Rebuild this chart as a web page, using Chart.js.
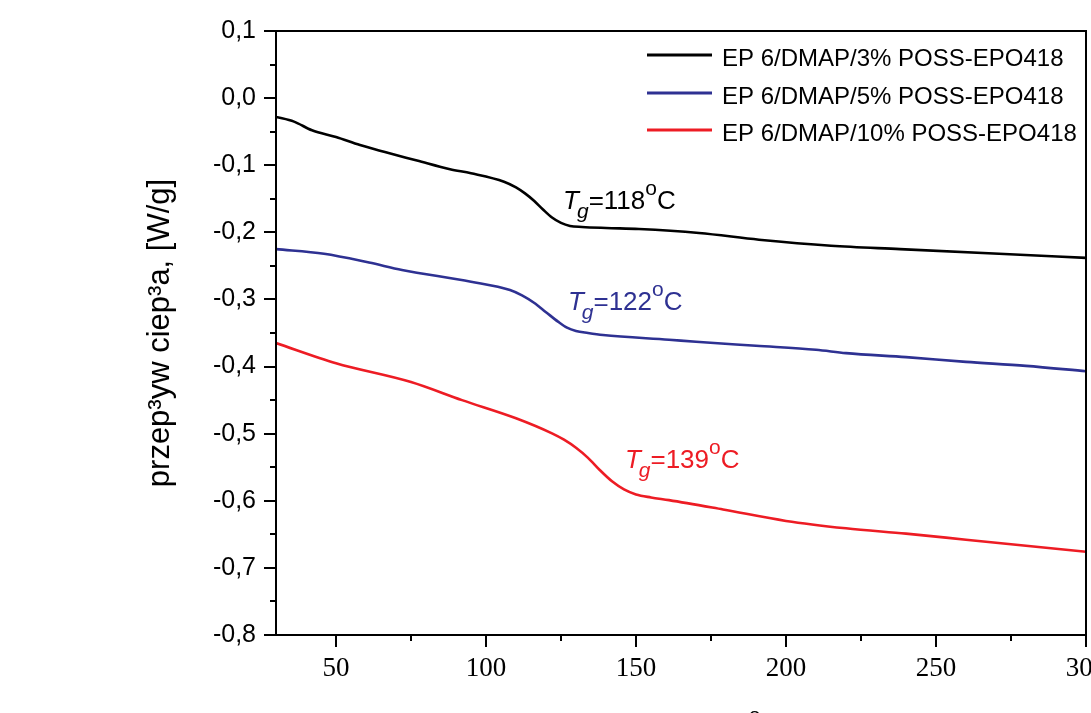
<!DOCTYPE html>
<html><head><meta charset="utf-8">
<script src="https://cdn.jsdelivr.net/npm/chart.js@4.4.1/dist/chart.umd.min.js"></script>
<style>
html,body{margin:0;padding:0;overflow:hidden;background:#fff;width:1091px;height:713px}
#wrap{position:absolute;left:0;top:0;width:1120px;height:745px}
</style>
</head><body><div id="wrap"><canvas id="c" width="1120" height="745"></canvas></div>
<script>
// ---- data ----
const seriesLabels = ['EP 6/DMAP/3% POSS-EPO418', 'EP 6/DMAP/5% POSS-EPO418', 'EP 6/DMAP/10% POSS-EPO418'];
const seriesColors = ['#000000', '#2E3192', '#ED1C24'];

const temps3 = [30, 36, 42, 50, 58, 66, 77, 88, 95, 106, 110, 113, 116, 119, 122, 125, 128, 132, 140, 151, 171, 191, 215, 238, 271, 300];
const heat3  = [-0.028, -0.035, -0.048, -0.058, -0.070, -0.080, -0.093, -0.106, -0.112, -0.1245, -0.133, -0.142, -0.153, -0.166, -0.178, -0.186, -0.1905, -0.192, -0.1935, -0.195, -0.201, -0.211, -0.220, -0.225, -0.232, -0.238];

const temps5 = [30, 46, 61, 72, 95, 108, 112, 116, 120, 124, 127, 130, 134, 139, 161, 170, 190, 210, 220, 240, 260, 280, 300];
const heat5  = [-0.225, -0.232, -0.245, -0.256, -0.2735, -0.286, -0.294, -0.305, -0.319, -0.333, -0.342, -0.347, -0.350, -0.353, -0.360, -0.363, -0.369, -0.375, -0.380, -0.386, -0.393, -0.399, -0.407];

const temps10 = [30, 50, 75, 92, 110, 122, 126, 130, 134, 138, 142, 146, 150, 155, 161, 179, 200, 220, 240, 260, 280, 300];
const heat10  = [-0.365, -0.395, -0.423, -0.450, -0.477, -0.4995, -0.509, -0.521, -0.536, -0.5545, -0.571, -0.583, -0.5905, -0.595, -0.599, -0.613, -0.630, -0.641, -0.649, -0.658, -0.667, -0.676];

const xTickValues = [50, 100, 150, 200, 250, 300];
const yTickValues = [0.1, 0.0, -0.1, -0.2, -0.3, -0.4, -0.5, -0.6, -0.7, -0.8];
const xMinorValues = [75, 125, 175, 225, 275];
const yMinorValues = [0.05, -0.05, -0.15, -0.25, -0.35, -0.45, -0.55, -0.65, -0.75];

const tgValues = ['118', '122', '139'];
const tgAnchorT = [125.7, 127.3, 146.3];
const tgAnchorV = [-0.1652, -0.3157, -0.5516];

const xTitleParts = ['Temperatura, [', 'o', 'C]'];
const yTitle = 'przep³yw ciep³a, [W/g]';

// ---- build ----
const temps = [temps3, temps5, temps10];
const heats = [heat3, heat5, heat10];
const datasets = seriesLabels.map((lab, i) => ({
  label: lab,
  data: temps[i].map((t, j) => ({x: t, y: heats[i][j]})),
  borderColor: seriesColors[i],
  backgroundColor: seriesColors[i],
  borderWidth: 2.6,
  pointRadius: 0,
  pointHoverRadius: 0,
  fill: false,
  cubicInterpolationMode: 'monotone'
}));

const SANS = '"Liberation Sans", Arial, sans-serif';
const SERIF = '"Liberation Serif", "Times New Roman", serif';

function zeroPad(s) { s.paddingTop = 0; s.paddingBottom = 0; s.paddingLeft = 0; s.paddingRight = 0; }

const framePlugin = {
  id: 'frame',
  afterDraw(chart) {
    const ctx = chart.ctx;
    const {left, right, top, bottom} = chart.chartArea;
    const xs = chart.scales.x, ys = chart.scales.y;
    ctx.save();
    ctx.strokeStyle = '#000';
    ctx.lineWidth = 2;
    ctx.strokeRect(left, top, right - left, bottom - top);
    ctx.beginPath();
    yTickValues.forEach(v => { const p = Math.round(ys.getPixelForValue(v)); ctx.moveTo(left - 12, p); ctx.lineTo(left, p); });
    yMinorValues.forEach(v => { const p = Math.round(ys.getPixelForValue(v)); ctx.moveTo(left - 6, p); ctx.lineTo(left, p); });
    xTickValues.forEach(v => { const p = Math.round(xs.getPixelForValue(v)); ctx.moveTo(p, bottom); ctx.lineTo(p, bottom + 12); });
    xMinorValues.forEach(v => { const p = Math.round(xs.getPixelForValue(v)); ctx.moveTo(p, bottom); ctx.lineTo(p, bottom + 6); });
    ctx.stroke();

    // legend
    const rowsLine = [55, 93, 130];
    ctx.textBaseline = 'alphabetic';
    ctx.textAlign = 'left';
    chart.data.datasets.forEach((ds, i) => {
      ctx.strokeStyle = ds.borderColor;
      ctx.lineWidth = 3;
      ctx.beginPath();
      ctx.moveTo(647, rowsLine[i]);
      ctx.lineTo(712, rowsLine[i]);
      ctx.stroke();
      ctx.fillStyle = '#000';
      ctx.font = '24px ' + SANS;
      ctx.fillText(ds.label, 722, rowsLine[i] + 11);
    });

    // Tg annotations
    tgValues.forEach((val, i) => {
      let x = xs.getPixelForValue(tgAnchorT[i]);
      const y = ys.getPixelForValue(tgAnchorV[i]);
      ctx.fillStyle = seriesColors[i];
      ctx.font = 'italic 26px ' + SANS;
      ctx.fillText('T', x, y);
      x += ctx.measureText('T').width - 2;
      ctx.font = 'italic 21px ' + SANS;
      ctx.fillText('g', x, y + 9);
      x += ctx.measureText('g').width;
      ctx.font = '26px ' + SANS;
      ctx.fillText('=' + val, x, y);
      x += ctx.measureText('=' + val).width;
      ctx.font = '21px ' + SANS;
      ctx.fillText('o', x, y - 14);
      x += ctx.measureText('o').width;
      ctx.font = '26px ' + SANS;
      ctx.fillText('C', x, y);
    });

    // x-axis title (mostly below the visible window, as in the reference)
    ctx.fillStyle = '#000';
    const base = 737;
    ctx.font = '27px ' + SANS;
    const w0 = ctx.measureText(xTitleParts[0]).width;
    const w2 = ctx.measureText(xTitleParts[2]).width;
    ctx.font = '21px ' + SANS;
    const w1 = ctx.measureText(xTitleParts[1]).width;
    let tx = (left + right) / 2 - (w0 + w1 + w2) / 2;
    ctx.font = '27px ' + SANS;
    ctx.fillText(xTitleParts[0], tx, base); tx += w0;
    ctx.font = '21px ' + SANS;
    ctx.fillText(xTitleParts[1], tx, base - 15); tx += w1;
    ctx.font = '27px ' + SANS;
    ctx.fillText(xTitleParts[2], tx, base);
    ctx.restore();
  }
};

new Chart(document.getElementById('c'), {
  type: 'line',
  data: {datasets},
  options: {
    responsive: false,
    animation: false,
    devicePixelRatio: 1,
    layout: {autoPadding: false, padding: {left: 0, top: 31, right: 34, bottom: 0}},
    plugins: {legend: {display: false}, tooltip: {enabled: false}},
    scales: {
      x: {
        type: 'linear', min: 30, max: 300,
        grid: {display: false, drawTicks: false},
        border: {display: false},
        afterBuildTicks: s => { s.ticks = xTickValues.map(v => ({value: v})); },
        afterFit: s => { s.height = 110; zeroPad(s); },
        ticks: {color: '#000', font: {family: SERIF, size: 27}, padding: 18, maxRotation: 0,
                callback: v => String(v)}
      },
      y: {
        type: 'linear', min: -0.8, max: 0.1,
        grid: {display: false, drawTicks: false},
        border: {display: false},
        afterBuildTicks: s => { s.ticks = yTickValues.map(v => ({value: v})); },
        afterFit: s => { s.width = 276; zeroPad(s); },
        ticks: {color: '#000', font: {family: SANS, size: 25}, padding: 20,
                callback: v => (Math.abs(v) < 1e-9 ? 0 : v).toFixed(1).replace('.', ',')},
        title: {display: true, text: yTitle, color: '#000', font: {family: SANS, size: 31}, padding: {top: 142, bottom: 0}}
      }
    }
  },
  plugins: [framePlugin]
});
</script>
</body></html>
